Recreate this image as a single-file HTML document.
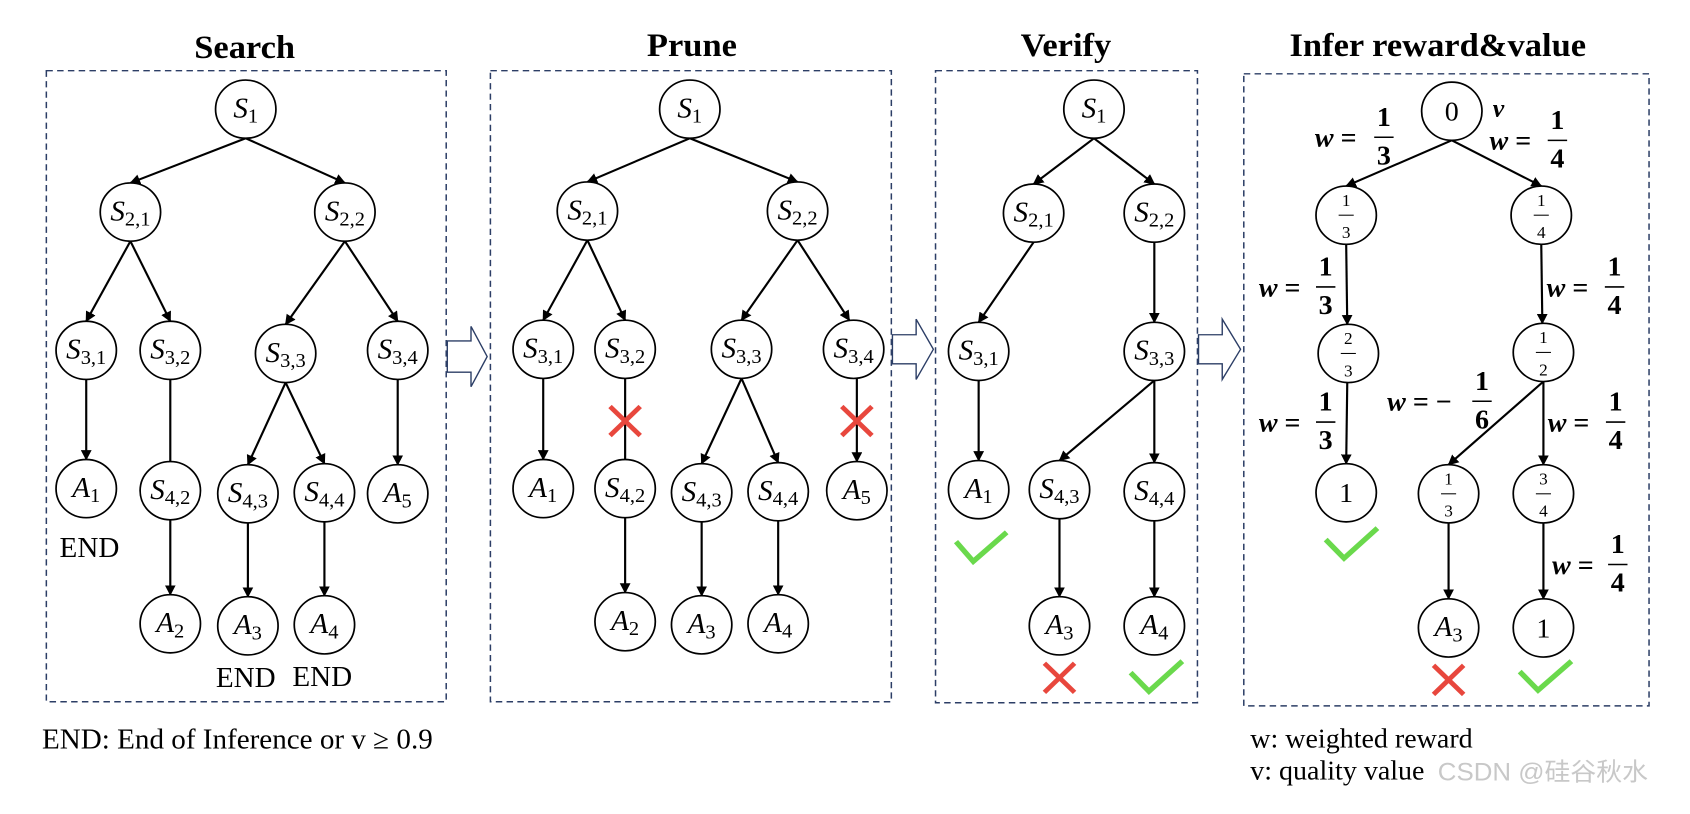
<!DOCTYPE html>
<html><head><meta charset="utf-8"><style>
html,body{margin:0;padding:0;background:#fff}
svg{display:block}
text{font-family:"Liberation Serif",serif;fill:#000}
.n{fill:#fff;stroke:#000;stroke-width:1.6}
.e{stroke:#000;stroke-width:2;fill:none}
.box{fill:none;stroke:#2c3e66;stroke-width:1.4;stroke-dasharray:6,4}
.t{font-weight:bold;font-size:32px}
.lb{font-size:27px;font-style:italic}
.sb{font-size:19px;font-style:normal}
.fr{font-size:16px}
.w{font-size:26px;font-weight:bold}
.ck{fill:none;stroke:#6ad94c;stroke-width:5}
.x{stroke:#e8473d;stroke-width:4.5}
.ha{fill:#fff;stroke:#2c3e66;stroke-width:1.3}
</style></head><body>
<svg width="1690" height="814" viewBox="0 0 1568 783" preserveAspectRatio="none" xmlns="http://www.w3.org/2000/svg">
<defs><marker id="ar" viewBox="0 0 10 10" refX="9" refY="5" markerWidth="5" markerHeight="5" orient="auto"><path d="M0,0 L10,5 L0,10 z" fill="#000"/></marker></defs>

<text class="t" x="227" y="56" text-anchor="middle">Search</text>
<text class="t" x="642" y="54" text-anchor="middle">Prune</text>
<text class="t" x="989" y="54" text-anchor="middle">Verify</text>
<text class="t" x="1334" y="54" text-anchor="middle">Infer reward&amp;value</text>

<rect class="box" x="43" y="68" width="371" height="607"/>
<rect class="box" x="455" y="68" width="372" height="607"/>
<rect class="box" x="868" y="68" width="243" height="608"/>
<rect class="box" x="1154" y="71" width="376" height="608"/>

<path class="ha" d="M415,328 L437,328 L437,314 L452,343 L437,372 L437,358 L415,358 z"/>
<path class="ha" d="M828,322 L850,322 L850,307 L866,336 L850,365 L850,350 L828,350 z"/>
<path class="ha" d="M1112,322 L1134,322 L1134,307 L1151,336 L1134,365 L1134,350 L1112,350 z"/>

<g class="e">
<line x1="228" y1="133" x2="121" y2="176" marker-end="url(#ar)"/>
<line x1="228" y1="133" x2="320" y2="176" marker-end="url(#ar)"/>
<line x1="121" y1="232" x2="80" y2="309" marker-end="url(#ar)"/>
<line x1="121" y1="232" x2="158" y2="309" marker-end="url(#ar)"/>
<line x1="320" y1="232" x2="265" y2="312" marker-end="url(#ar)"/>
<line x1="320" y1="232" x2="369" y2="309" marker-end="url(#ar)"/>
<line x1="80" y1="365" x2="80" y2="442" marker-end="url(#ar)"/>
<line x1="158" y1="365" x2="158" y2="444"/>
<line x1="265" y1="368" x2="230" y2="447" marker-end="url(#ar)"/>
<line x1="265" y1="368" x2="301" y2="446" marker-end="url(#ar)"/>
<line x1="369" y1="365" x2="369" y2="447" marker-end="url(#ar)"/>
<line x1="158" y1="500" x2="158" y2="572" marker-end="url(#ar)"/>
<line x1="230" y1="503" x2="230" y2="574" marker-end="url(#ar)"/>
<line x1="301" y1="502" x2="301" y2="573" marker-end="url(#ar)"/>
</g>
<g>
<circle class="n" cx="228" cy="105" r="28"/><text class="lb" x="228" y="113" text-anchor="middle">S<tspan class="sb" dy="5">1</tspan></text>
<circle class="n" cx="121" cy="204" r="28"/><text class="lb" x="121" y="212" text-anchor="middle">S<tspan class="sb" dy="5">2,1</tspan></text>
<circle class="n" cx="320" cy="204" r="28"/><text class="lb" x="320" y="212" text-anchor="middle">S<tspan class="sb" dy="5">2,2</tspan></text>
<circle class="n" cx="80" cy="337" r="28"/><text class="lb" x="80" y="345" text-anchor="middle">S<tspan class="sb" dy="5">3,1</tspan></text>
<circle class="n" cx="158" cy="337" r="28"/><text class="lb" x="158" y="345" text-anchor="middle">S<tspan class="sb" dy="5">3,2</tspan></text>
<circle class="n" cx="265" cy="340" r="28"/><text class="lb" x="265" y="348" text-anchor="middle">S<tspan class="sb" dy="5">3,3</tspan></text>
<circle class="n" cx="369" cy="337" r="28"/><text class="lb" x="369" y="345" text-anchor="middle">S<tspan class="sb" dy="5">3,4</tspan></text>
<circle class="n" cx="80" cy="470" r="28"/><text class="lb" x="80" y="478" text-anchor="middle">A<tspan class="sb" dy="5">1</tspan></text>
<circle class="n" cx="158" cy="472" r="28"/><text class="lb" x="158" y="480" text-anchor="middle">S<tspan class="sb" dy="5">4,2</tspan></text>
<circle class="n" cx="230" cy="475" r="28"/><text class="lb" x="230" y="483" text-anchor="middle">S<tspan class="sb" dy="5">4,3</tspan></text>
<circle class="n" cx="301" cy="474" r="28"/><text class="lb" x="301" y="482" text-anchor="middle">S<tspan class="sb" dy="5">4,4</tspan></text>
<circle class="n" cx="369" cy="475" r="28"/><text class="lb" x="369" y="483" text-anchor="middle">A<tspan class="sb" dy="5">5</tspan></text>
<circle class="n" cx="158" cy="600" r="28"/><text class="lb" x="158" y="608" text-anchor="middle">A<tspan class="sb" dy="5">2</tspan></text>
<circle class="n" cx="230" cy="602" r="28"/><text class="lb" x="230" y="610" text-anchor="middle">A<tspan class="sb" dy="5">3</tspan></text>
<circle class="n" cx="301" cy="601" r="28"/><text class="lb" x="301" y="609" text-anchor="middle">A<tspan class="sb" dy="5">4</tspan></text>
</g>
<text x="83" y="536" font-size="27" text-anchor="middle">END</text>
<text x="228" y="661" font-size="27" text-anchor="middle">END</text>
<text x="299" y="660" font-size="27" text-anchor="middle">END</text>
<text x="39" y="720" font-size="27">END: End of Inference or v ≥ 0.9</text>

<g class="e">
<line x1="640" y1="133" x2="545" y2="175" marker-end="url(#ar)"/>
<line x1="640" y1="133" x2="740" y2="175" marker-end="url(#ar)"/>
<line x1="545" y1="231" x2="504" y2="308" marker-end="url(#ar)"/>
<line x1="545" y1="231" x2="580" y2="308" marker-end="url(#ar)"/>
<line x1="740" y1="231" x2="688" y2="308" marker-end="url(#ar)"/>
<line x1="740" y1="231" x2="788" y2="308" marker-end="url(#ar)"/>
<line x1="504" y1="364" x2="504" y2="442" marker-end="url(#ar)"/>
<line x1="580" y1="364" x2="580" y2="442"/>
<line x1="688" y1="364" x2="651" y2="446" marker-end="url(#ar)"/>
<line x1="688" y1="364" x2="722" y2="445" marker-end="url(#ar)"/>
<line x1="795" y1="364" x2="795" y2="444" marker-end="url(#ar)"/>
<line x1="580" y1="498" x2="580" y2="570" marker-end="url(#ar)"/>
<line x1="651" y1="502" x2="651" y2="573" marker-end="url(#ar)"/>
<line x1="722" y1="501" x2="722" y2="572" marker-end="url(#ar)"/>
</g>
<g>
<circle class="n" cx="640" cy="105" r="28"/><text class="lb" x="640" y="113" text-anchor="middle">S<tspan class="sb" dy="5">1</tspan></text>
<circle class="n" cx="545" cy="203" r="28"/><text class="lb" x="545" y="211" text-anchor="middle">S<tspan class="sb" dy="5">2,1</tspan></text>
<circle class="n" cx="740" cy="203" r="28"/><text class="lb" x="740" y="211" text-anchor="middle">S<tspan class="sb" dy="5">2,2</tspan></text>
<circle class="n" cx="504" cy="336" r="28"/><text class="lb" x="504" y="344" text-anchor="middle">S<tspan class="sb" dy="5">3,1</tspan></text>
<circle class="n" cx="580" cy="336" r="28"/><text class="lb" x="580" y="344" text-anchor="middle">S<tspan class="sb" dy="5">3,2</tspan></text>
<circle class="n" cx="688" cy="336" r="28"/><text class="lb" x="688" y="344" text-anchor="middle">S<tspan class="sb" dy="5">3,3</tspan></text>
<circle class="n" cx="792" cy="336" r="28"/><text class="lb" x="792" y="344" text-anchor="middle">S<tspan class="sb" dy="5">3,4</tspan></text>
<circle class="n" cx="504" cy="470" r="28"/><text class="lb" x="504" y="478" text-anchor="middle">A<tspan class="sb" dy="5">1</tspan></text>
<circle class="n" cx="580" cy="470" r="28"/><text class="lb" x="580" y="478" text-anchor="middle">S<tspan class="sb" dy="5">4,2</tspan></text>
<circle class="n" cx="651" cy="474" r="28"/><text class="lb" x="651" y="482" text-anchor="middle">S<tspan class="sb" dy="5">4,3</tspan></text>
<circle class="n" cx="722" cy="473" r="28"/><text class="lb" x="722" y="481" text-anchor="middle">S<tspan class="sb" dy="5">4,4</tspan></text>
<circle class="n" cx="795" cy="472" r="28"/><text class="lb" x="795" y="480" text-anchor="middle">A<tspan class="sb" dy="5">5</tspan></text>
<circle class="n" cx="580" cy="598" r="28"/><text class="lb" x="580" y="606" text-anchor="middle">A<tspan class="sb" dy="5">2</tspan></text>
<circle class="n" cx="651" cy="601" r="28"/><text class="lb" x="651" y="609" text-anchor="middle">A<tspan class="sb" dy="5">3</tspan></text>
<circle class="n" cx="722" cy="600" r="28"/><text class="lb" x="722" y="608" text-anchor="middle">A<tspan class="sb" dy="5">4</tspan></text>
</g>
<g class="x"><line x1="566" y1="391" x2="594" y2="419"/><line x1="594" y1="391" x2="566" y2="419"/>
<line x1="781" y1="391" x2="809" y2="419"/><line x1="809" y1="391" x2="781" y2="419"/></g>

<g class="e">
<line x1="1015" y1="133" x2="959" y2="177" marker-end="url(#ar)"/>
<line x1="1015" y1="133" x2="1071" y2="177" marker-end="url(#ar)"/>
<line x1="959" y1="233" x2="908" y2="310" marker-end="url(#ar)"/>
<line x1="1071" y1="233" x2="1071" y2="310" marker-end="url(#ar)"/>
<line x1="908" y1="366" x2="908" y2="443" marker-end="url(#ar)"/>
<line x1="1071" y1="366" x2="983" y2="443" marker-end="url(#ar)"/>
<line x1="1071" y1="366" x2="1071" y2="445" marker-end="url(#ar)"/>
<line x1="983" y1="499" x2="983" y2="574" marker-end="url(#ar)"/>
<line x1="1071" y1="501" x2="1071" y2="574" marker-end="url(#ar)"/>
</g>
<g>
<circle class="n" cx="1015" cy="105" r="28"/><text class="lb" x="1015" y="113" text-anchor="middle">S<tspan class="sb" dy="5">1</tspan></text>
<circle class="n" cx="959" cy="205" r="28"/><text class="lb" x="959" y="213" text-anchor="middle">S<tspan class="sb" dy="5">2,1</tspan></text>
<circle class="n" cx="1071" cy="205" r="28"/><text class="lb" x="1071" y="213" text-anchor="middle">S<tspan class="sb" dy="5">2,2</tspan></text>
<circle class="n" cx="908" cy="338" r="28"/><text class="lb" x="908" y="346" text-anchor="middle">S<tspan class="sb" dy="5">3,1</tspan></text>
<circle class="n" cx="1071" cy="338" r="28"/><text class="lb" x="1071" y="346" text-anchor="middle">S<tspan class="sb" dy="5">3,3</tspan></text>
<circle class="n" cx="908" cy="471" r="28"/><text class="lb" x="908" y="479" text-anchor="middle">A<tspan class="sb" dy="5">1</tspan></text>
<circle class="n" cx="983" cy="471" r="28"/><text class="lb" x="983" y="479" text-anchor="middle">S<tspan class="sb" dy="5">4,3</tspan></text>
<circle class="n" cx="1071" cy="473" r="28"/><text class="lb" x="1071" y="481" text-anchor="middle">S<tspan class="sb" dy="5">4,4</tspan></text>
<circle class="n" cx="983" cy="602" r="28"/><text class="lb" x="983" y="610" text-anchor="middle">A<tspan class="sb" dy="5">3</tspan></text>
<circle class="n" cx="1071" cy="602" r="28"/><text class="lb" x="1071" y="610" text-anchor="middle">A<tspan class="sb" dy="5">4</tspan></text>
</g>
<polyline class="ck" points="887,521 903,540 934,512"/>
<polyline class="ck" points="1049,647 1066,665 1097,636"/>
<g class="x"><line x1="969" y1="638" x2="997" y2="666"/><line x1="997" y1="638" x2="969" y2="666"/></g>

<g class="e">
<line x1="1347" y1="135" x2="1249" y2="179" marker-end="url(#ar)"/>
<line x1="1347" y1="135" x2="1430" y2="179" marker-end="url(#ar)"/>
<line x1="1249" y1="235" x2="1250" y2="312" marker-end="url(#ar)"/>
<line x1="1430" y1="235" x2="1431" y2="311" marker-end="url(#ar)"/>
<line x1="1250" y1="368" x2="1249" y2="446" marker-end="url(#ar)"/>
<line x1="1432" y1="367" x2="1344" y2="447" marker-end="url(#ar)"/>
<line x1="1432" y1="367" x2="1432" y2="447" marker-end="url(#ar)"/>
<line x1="1344" y1="503" x2="1344" y2="576" marker-end="url(#ar)"/>
<line x1="1432" y1="503" x2="1432" y2="576" marker-end="url(#ar)"/>
</g>
<g>
<circle class="n" cx="1347" cy="107" r="28"/><text x="1347" y="116" font-size="26" text-anchor="middle">0</text>
<circle class="n" cx="1249" cy="207" r="28"/><text class="fr" x="1249" y="198" text-anchor="middle">1</text><line x1="1242" y1="207" x2="1256" y2="207" stroke="#000" stroke-width="1"/><text class="fr" x="1249" y="229" text-anchor="middle">3</text>
<circle class="n" cx="1430" cy="207" r="28"/><text class="fr" x="1430" y="198" text-anchor="middle">1</text><line x1="1423" y1="207" x2="1437" y2="207" stroke="#000" stroke-width="1"/><text class="fr" x="1430" y="229" text-anchor="middle">4</text>
<circle class="n" cx="1251" cy="340" r="28"/><text class="fr" x="1251" y="331" text-anchor="middle">2</text><line x1="1244" y1="340" x2="1258" y2="340" stroke="#000" stroke-width="1"/><text class="fr" x="1251" y="362" text-anchor="middle">3</text>
<circle class="n" cx="1432" cy="339" r="28"/><text class="fr" x="1432" y="330" text-anchor="middle">1</text><line x1="1425" y1="339" x2="1439" y2="339" stroke="#000" stroke-width="1"/><text class="fr" x="1432" y="361" text-anchor="middle">2</text>
<circle class="n" cx="1249" cy="474" r="28"/><text x="1249" y="483" font-size="26" text-anchor="middle">1</text>
<circle class="n" cx="1344" cy="475" r="28"/><text class="fr" x="1344" y="466" text-anchor="middle">1</text><line x1="1337" y1="475" x2="1351" y2="475" stroke="#000" stroke-width="1"/><text class="fr" x="1344" y="497" text-anchor="middle">3</text>
<circle class="n" cx="1432" cy="475" r="28"/><text class="fr" x="1432" y="466" text-anchor="middle">3</text><line x1="1425" y1="475" x2="1439" y2="475" stroke="#000" stroke-width="1"/><text class="fr" x="1432" y="497" text-anchor="middle">4</text>
<circle class="n" cx="1344" cy="604" r="28"/><text class="lb" x="1344" y="612" text-anchor="middle">A<tspan class="sb" dy="5">3</tspan></text>
<circle class="n" cx="1432" cy="604" r="28"/><text x="1432" y="613" font-size="26" text-anchor="middle">1</text>
</g>
<text x="1385" y="112" font-size="24" font-weight="bold" font-style="italic">v</text>
<polyline class="ck" points="1230,519 1247,537 1278,508"/>
<polyline class="ck" points="1410,646 1427,664 1458,636"/>
<g class="x"><line x1="1330" y1="640" x2="1358" y2="668"/><line x1="1358" y1="640" x2="1330" y2="668"/></g>

<g class="w">
<text x="1220" y="141"><tspan font-style="italic">w</tspan> =</text>
<text x="1284" y="121" text-anchor="middle">1</text><line x1="1275" y1="132" x2="1293" y2="132" stroke="#000" stroke-width="1.5"/><text x="1284" y="158" text-anchor="middle">3</text>
<text x="1382" y="144"><tspan font-style="italic">w</tspan> =</text>
<text x="1445" y="124" text-anchor="middle">1</text><line x1="1436" y1="135" x2="1454" y2="135" stroke="#000" stroke-width="1.5"/><text x="1445" y="161" text-anchor="middle">4</text>

<text x="1168" y="285"><tspan font-style="italic">w</tspan> =</text>
<text x="1230" y="265" text-anchor="middle">1</text><line x1="1221" y1="276" x2="1239" y2="276" stroke="#000" stroke-width="1.5"/><text x="1230" y="302" text-anchor="middle">3</text>
<text x="1435" y="285"><tspan font-style="italic">w</tspan> =</text>
<text x="1498" y="265" text-anchor="middle">1</text><line x1="1489" y1="276" x2="1507" y2="276" stroke="#000" stroke-width="1.5"/><text x="1498" y="302" text-anchor="middle">4</text>

<text x="1168" y="415"><tspan font-style="italic">w</tspan> =</text>
<text x="1230" y="395" text-anchor="middle">1</text><line x1="1221" y1="406" x2="1239" y2="406" stroke="#000" stroke-width="1.5"/><text x="1230" y="432" text-anchor="middle">3</text>
<text x="1287" y="395"><tspan font-style="italic">w</tspan> = −</text>
<text x="1375" y="375" text-anchor="middle">1</text><line x1="1366" y1="386" x2="1384" y2="386" stroke="#000" stroke-width="1.5"/><text x="1375" y="412" text-anchor="middle">6</text>
<text x="1436" y="415"><tspan font-style="italic">w</tspan> =</text>
<text x="1499" y="395" text-anchor="middle">1</text><line x1="1490" y1="406" x2="1508" y2="406" stroke="#000" stroke-width="1.5"/><text x="1499" y="432" text-anchor="middle">4</text>

<text x="1440" y="552"><tspan font-style="italic">w</tspan> =</text>
<text x="1501" y="532" text-anchor="middle">1</text><line x1="1492" y1="543" x2="1510" y2="543" stroke="#000" stroke-width="1.5"/><text x="1501" y="569" text-anchor="middle">4</text>
</g>

<text x="1160" y="719" font-size="26">w: weighted reward</text>
<text x="1160" y="750" font-size="26">v: quality value</text>
<text x="1334" y="751" font-size="24" style="font-family:'Liberation Sans','Noto Sans CJK SC',sans-serif;fill:#c8c8c8">CSDN @硅谷秋水</text>
</svg>
</body></html>
